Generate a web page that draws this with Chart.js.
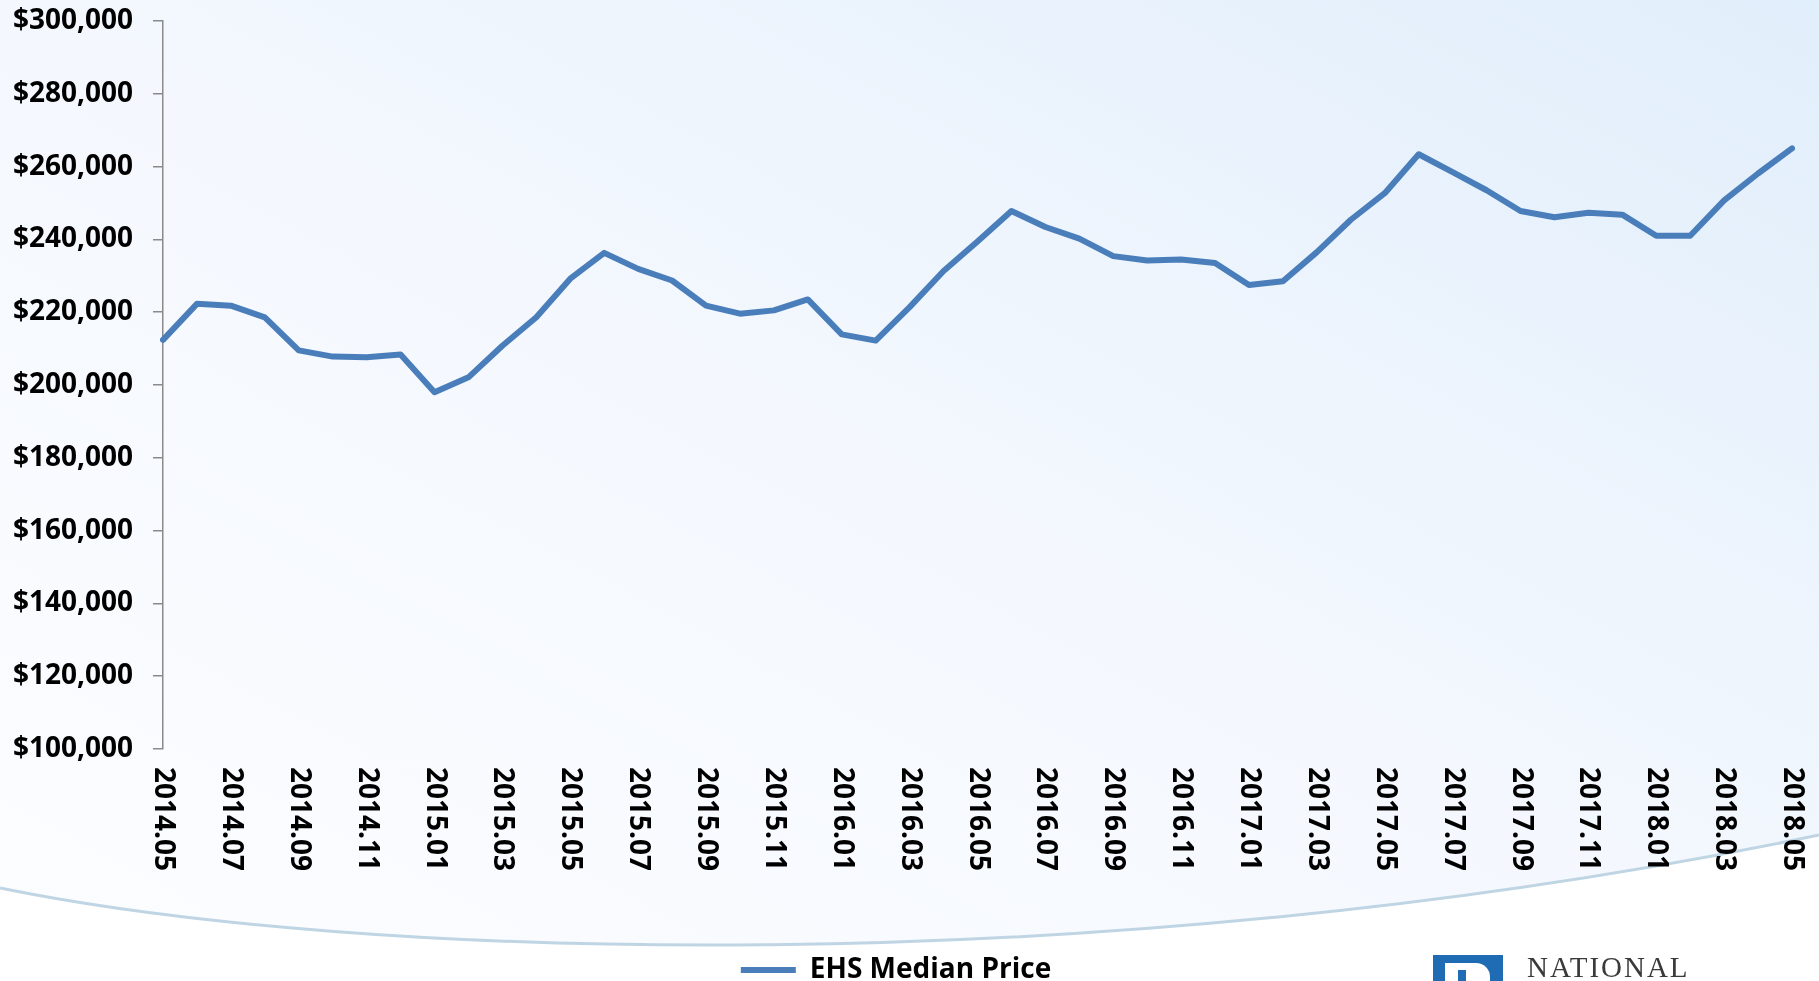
<!DOCTYPE html>
<html lang="en">
<head>
<meta charset="UTF-8">
<title>EHS Median Price</title>
<script src="https://cdn.jsdelivr.net/npm/chart.js"></script>
<style>
  html, body { margin: 0; padding: 0; overflow: hidden; background: #fff; }
  #bg { position: absolute; left: 0; top: 0; }
  #chart { position: absolute; left: 0; top: 0; }
  #logo { position: absolute; left: 1433px; top: 955px; }
  #logo .mark { position: absolute; left: 0; top: 0; width: 70px; height: 40px; background: #1f6bb4; overflow: hidden; }
  #logo .mark .w { position: absolute; left: 12px; top: 8px; width: 45px; height: 40px; background: #fff; border-top-right-radius: 14px; }
  #logo .mark .b { position: absolute; left: 25px; top: 15px; width: 8px; height: 30px; background: #1f6bb4; }
  #logo .name { position: absolute; left: 94px; top: -4px; font-family: "Liberation Serif", "DejaVu Serif", serif;
                font-size: 29px; letter-spacing: 2px; color: #3a3a3a; white-space: nowrap; }
</style>
</head>
<body>
<svg id="bg" width="1819" height="981">
  <defs>
    <linearGradient id="g" x1="0" y1="1" x2="1" y2="0">
      <stop offset="0" stop-color="#fcfdff"/>
      <stop offset="0.5" stop-color="#f4f8fe"/>
      <stop offset="1" stop-color="#e1eefb"/>
    </linearGradient>
  </defs>
  <rect width="1819" height="981" fill="url(#g)"/>
  <path d="M0,888 C350,960 1100,985 1819,835 L1819,981 L0,981 Z" fill="#ffffff"/>
  <path d="M0,888 C350,960 1100,985 1819,835" fill="none" stroke="#bfd5e4" stroke-width="3"/>
</svg>
<canvas id="chart" width="1819" height="994"></canvas>
<div id="logo">
  <div class="mark"><div class="w"></div><div class="b"></div></div>
  <div class="name">NATIONAL</div>
</div>

<script>
// months May 2014 .. May 2018
var months = [
  "2014.05","2014.06","2014.07","2014.08","2014.09","2014.10","2014.11","2014.12",
  "2015.01","2015.02","2015.03","2015.04","2015.05","2015.06","2015.07","2015.08","2015.09","2015.10","2015.11","2015.12",
  "2016.01","2016.02","2016.03","2016.04","2016.05","2016.06","2016.07","2016.08","2016.09","2016.10","2016.11","2016.12",
  "2017.01","2017.02","2017.03","2017.04","2017.05","2017.06","2017.07","2017.08","2017.09","2017.10","2017.11","2017.12",
  "2018.01","2018.02","2018.03","2018.04","2018.05"
];

var medianPrice = [
  212400, 222300, 221800, 218600, 209500, 207800, 207600, 208400,
  198000, 202100, 210800, 218600, 229200, 236300, 231900, 228700, 221800, 219600, 220500, 223500,
  213900, 212200, 221400, 231300, 239400, 247800, 243400, 240200, 235400, 234200, 234500, 233500,
  227500, 228500, 236500, 245400, 252700, 263400, 258500, 253500, 247800, 246100, 247300, 246800,
  241000, 241000, 250700, 258100, 265000
];

var yMin = 100000;
var yMax = 300000;
var yStep = 20000;

var FONT = "'Open Sans', 'Noto Sans', sans-serif";
var lineColor = "#4a7ebb";

// x labels read top-to-bottom, every other month
var verticalLabels = {
  id: "verticalLabels",
  afterDraw: function(chart) {
    var xs = chart.scales.x;
    var ctx = chart.ctx;
    ctx.save();
    ctx.font = "bold 28px " + FONT;
    ctx.fillStyle = "#000";
    ctx.textAlign = "left";
    ctx.textBaseline = "middle";
    for (var i = 0; i < months.length; i += 2) {
      var x = xs.getPixelForValue(i);
      ctx.save();
      ctx.translate(x, xs.top + 18);
      ctx.rotate(Math.PI / 2);
      ctx.fillText(months[i], 0, 0);
      ctx.restore();
    }
    ctx.restore();
  }
};

var chart = new Chart(document.getElementById("chart").getContext("2d"), {
  type: "line",
  data: {
    labels: months,
    datasets: [{
      label: "EHS Median Price",
      data: medianPrice,
      borderColor: lineColor,
      backgroundColor: lineColor,
      borderWidth: 6,
      borderCapStyle: "round",
      borderJoinStyle: "round",
      pointRadius: 0,
      tension: 0,
      fill: false
    }]
  },
  options: {
    responsive: false,
    animation: false,
    layout: { padding: { top: 21, right: 27, left: 0, bottom: 0 } },
    plugins: {
      tooltip: { enabled: false },
      legend: {
        position: "bottom",
        labels: {
          usePointStyle: true,
          pointStyle: "line",
          pointStyleWidth: 55,
          padding: 6,
          color: "#000",
          font: { family: FONT, size: 28, weight: "bold" }
        }
      }
    },
    scales: {
      x: {
        offset: false,
        grid: { display: false },
        border: { display: false },
        ticks: { display: false },
        afterFit: function(scale) { scale.height = 201; }
      },
      y: {
        min: yMin,
        max: yMax,
        grid: { drawOnChartArea: false, drawTicks: true, tickLength: 10, color: "#8a8a8a", lineWidth: 1.5 },
        border: { display: true, color: "#8a8a8a", width: 1.5 },
        ticks: {
          stepSize: yStep,
          padding: 20,
          color: "#000",
          font: { family: FONT, size: 28, weight: "bold" },
          callback: function(v) { return "$" + v.toLocaleString("en-US"); }
        },
        afterFit: function(scale) {
          scale.width = 163;
          scale.paddingTop = 0;
          scale.paddingBottom = 0;
        }
      }
    }
  },
  plugins: [verticalLabels]
});
</script>
</body>
</html>
